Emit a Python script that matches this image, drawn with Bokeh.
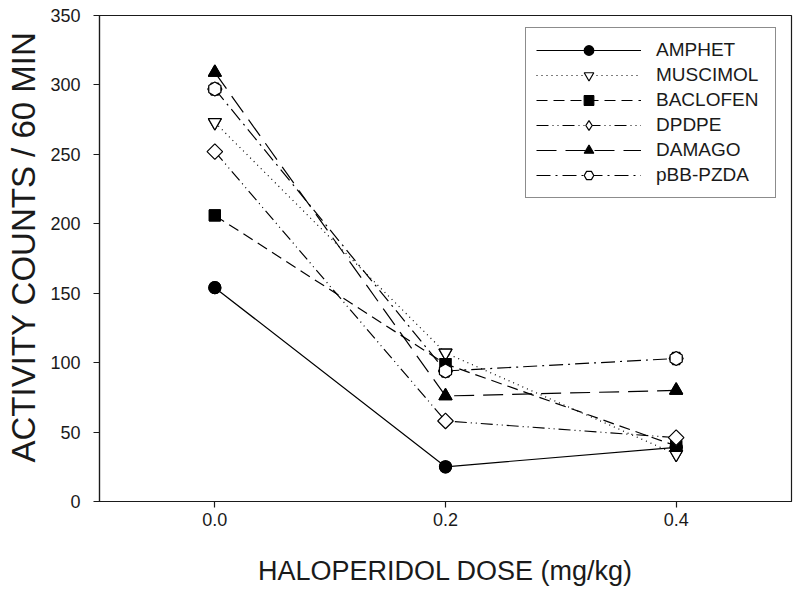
import numpy as np
from bokeh.plotting import figure
from bokeh.models import Range1d, FixedTicker, Legend, LegendItem, Title
from bokeh.embed import file_html
from bokeh.resources import INLINE

# ---- data ----
dose = [0.0, 0.2, 0.4]
amphet = [154, 25, 39]
muscimol = [273, 107, 34]
baclofen = [206, 99, 40]
dpdpe = [252, 58, 46]
damago = [309, 76, 80]
pbb_pzda = [297, 94, 103]
series_names = ["AMPHET", "MUSCIMOL", "BACLOFEN", "DPDPE", "DAMAGO", "pBB-PZDA"]
series_values = [amphet, muscimol, baclofen, dpdpe, damago, pbb_pzda]
x_ticks = [0.0, 0.2, 0.4]
x_tick_labels = ["0.0", "0.2", "0.4"]
y_ticks = [0, 50, 100, 150, 200, 250, 300, 350]

# ---- styles ----
styles = [
    dict(dash="solid", marker="circle", fill="black", angle=0.0, size=12),
    dict(dash="1 4", marker="inverted_triangle", fill="white", angle=0.0, size=13),
    dict(dash="11 6", marker="square", fill="black", angle=0.0, size=11),
    dict(dash="12 4 1 4 1 4", marker="square", fill="white", angle=np.pi / 4, size=11),
    dict(dash="20 9", marker="triangle", fill="black", angle=0.0, size=13),
    dict(dash="14 5 2 5", marker="hex", fill="white", angle=np.pi / 2, size=14),
]
legend_markers = ["circle", "inverted_triangle", "square", "diamond", "triangle", "hex"]

FONT = "Liberation Sans"
INK = "#1a1a1a"

p = figure(width=800, height=594, output_backend="svg", toolbar_location=None,
           x_range=Range1d(-0.1, 0.5), y_range=Range1d(0, 350),
           min_border_left=98, min_border_right=9, min_border_top=15, min_border_bottom=93)
p.grid.visible = False
p.outline_line_color = INK
p.outline_line_width = 1.2
p.background_fill_color = "white"
p.border_fill_color = "white"

for ax in (p.xaxis[0], p.yaxis[0]):
    ax.axis_line_color = INK
    ax.axis_line_width = 1.2
    ax.major_tick_line_color = INK
    ax.major_tick_line_width = 1.2
    ax.major_tick_out = 6
    ax.major_tick_in = 0
    ax.minor_tick_line_color = None
    ax.major_label_text_font = FONT
    ax.major_label_text_color = INK
    ax.major_label_text_font_size = "18px"
    ax.axis_label_text_font = FONT
    ax.axis_label_text_font_style = "normal"
    ax.axis_label_text_color = INK

p.xaxis.ticker = FixedTicker(ticks=x_ticks)
p.xaxis.major_label_overrides = {t: l for t, l in zip(x_ticks, x_tick_labels)}
p.yaxis.ticker = FixedTicker(ticks=y_ticks)
p.xaxis.axis_label = "HALOPERIDOL DOSE (mg/kg)"
p.xaxis.axis_label_text_font_size = "27px"
p.xaxis.major_label_standoff = 5
p.yaxis.major_label_standoff = 13
p.xaxis.axis_label_standoff = 27

ytitle = Title(text="ACTIVITY COUNTS / 60 MIN", align="left", offset=39, standoff=8,
               vertical_align="top",
               text_font=FONT, text_font_size="33px", text_font_style="normal",
               text_color=INK)
p.add_layout(ytitle, "left")

lines = []
for name, vals, st in zip(series_names, series_values, styles):
    ln = p.line(dose, vals, line_color="black", line_width=1.2, line_dash=st["dash"])
    lines.append(ln)

# markers used only for the legend keys (drawn underneath the visible markers)
keys = []
for vals, lm, st in zip(series_values, legend_markers, styles):
    k = p.scatter(dose, vals, marker=lm, size=st["size"] if lm != "diamond" else 14,
                  fill_color=st["fill"], line_color="black", line_width=1.2)
    keys.append(k)

for vals, st in zip(series_values, styles):
    p.scatter(dose, vals, marker=st["marker"], size=st["size"], angle=st["angle"],
              fill_color=st["fill"], line_color="black", line_width=1.2)

legend = Legend(items=[LegendItem(label=n, renderers=[ln, k])
                       for n, ln, k in zip(series_names, lines, keys)],
                location=(426, 303))
legend.border_line_color = INK
legend.border_line_width = 1.2
legend.background_fill_color = "white"
legend.background_fill_alpha = 1.0
legend.label_text_font = FONT
legend.label_text_font_size = "19px"
legend.label_text_color = INK
legend.glyph_width = 105
legend.glyph_height = 24
legend.label_height = 24
legend.spacing = 1
legend.padding = 10
legend.margin = 0
legend.label_standoff = 15
legend.label_width = 109
p.add_layout(legend)

open("out.html", "w").write(file_html(p, INLINE))
